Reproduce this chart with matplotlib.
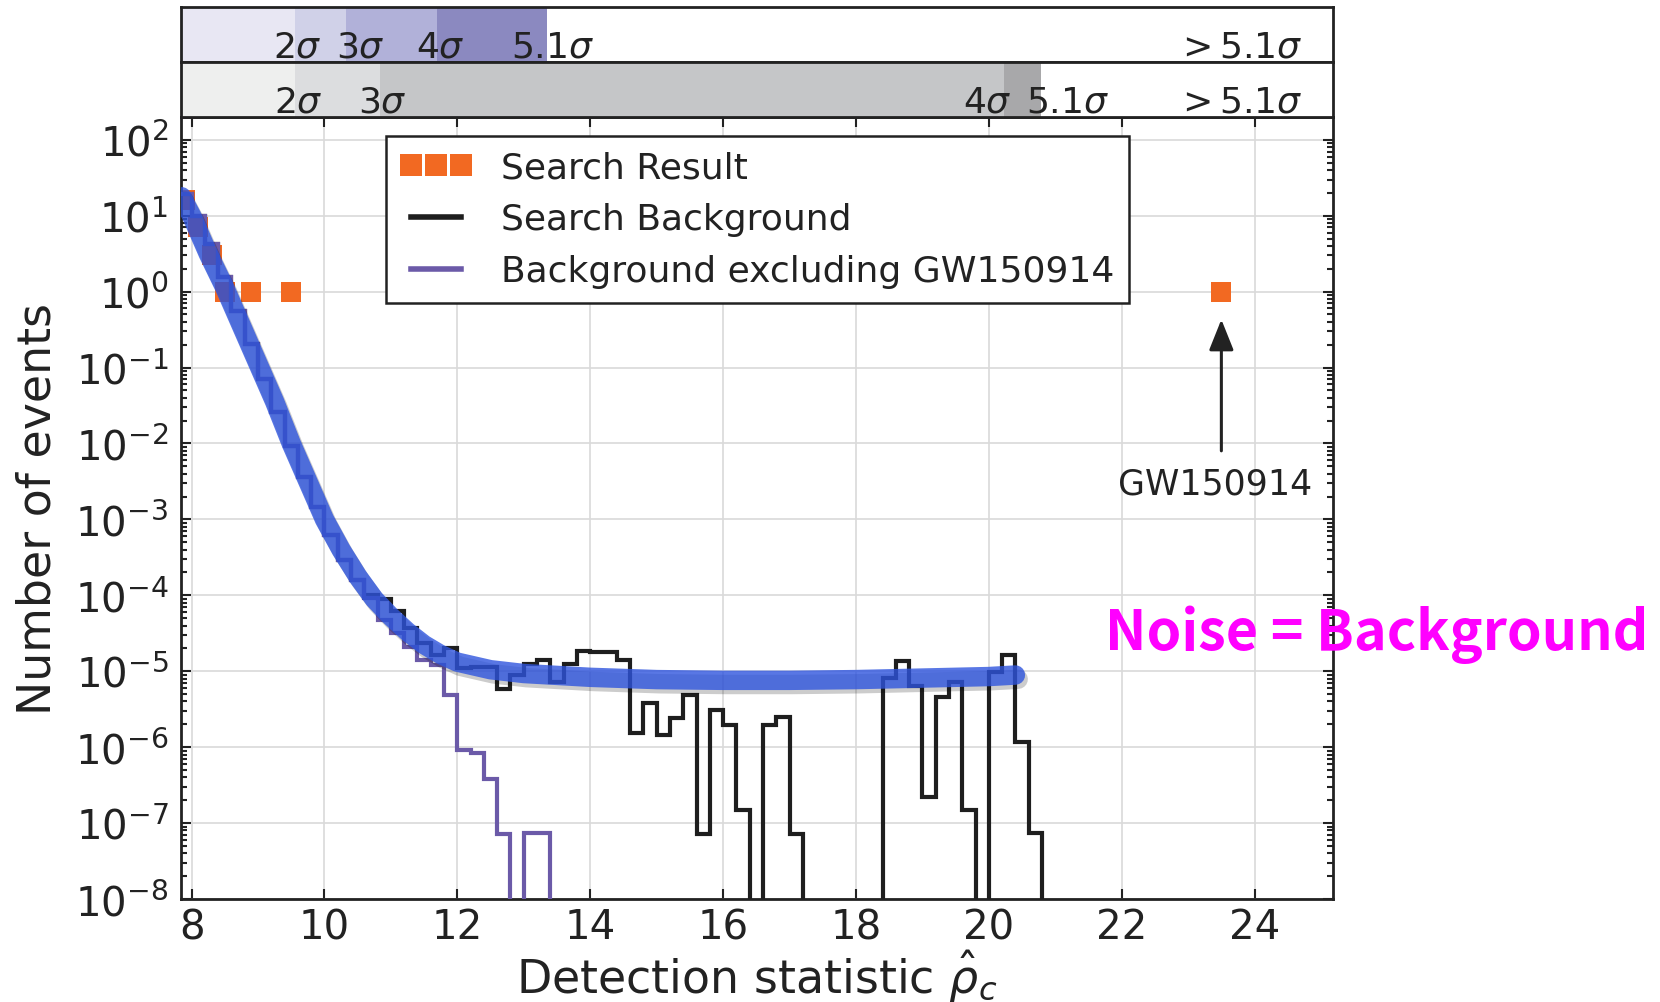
import numpy as np
import matplotlib
matplotlib.use('Agg')
import matplotlib.pyplot as plt
import matplotlib.patheffects as pe
from matplotlib.ticker import LogLocator, NullFormatter
from matplotlib.lines import Line2D

nan = np.nan

# histogram bins (detection statistic), 0.2 wide starting at 7.8
bin_start = 7.8
bin_width = 0.2

# log10(number of events) per bin, nan = empty bin
search_bg_log = [1.28, 1.00, 0.63, 0.19, -0.25, -0.69, -1.15, -1.59, -2.03, -2.44,
                 -2.84, -3.20, -3.53, -3.80, -4.00, -4.05, -4.20, -4.43, -4.63, -4.78,
                 -4.70, -4.96, -4.94, -4.94, -5.23, -5.05, -4.91, -4.85, -5.14, -4.91,
                 -4.74, -4.75, -4.75, -4.85, -5.82, -5.42, -5.84, -5.62, -5.31, -7.14,
                 -5.51, -5.71, -6.83, nan, -5.71, -5.60, -7.14, nan, nan, nan,
                 nan, nan, nan, -5.09, -4.87, -5.20, -6.66, -5.34, -5.14, -6.83,
                 nan, -5.01, -4.79, -5.93, -7.13]
excl_bg_log = [1.28, 1.00, 0.63, 0.19, -0.25, -0.69, -1.15, -1.59, -2.03, -2.44,
               -2.84, -3.20, -3.53, -3.80, -4.04, -4.32, -4.50, -4.68, -4.85, -4.92,
               -5.31, -6.04, -6.08, -6.42, -7.14, nan, -7.13, -7.13]

# search result (counts)
result_x = [7.9, 8.1, 8.3, 8.5, 8.9, 9.5, 23.5]
result_n = [16, 7, 3, 1, 1, 1, 1]

# smooth background fit (blue band)
fit_x = [7.85, 8.0, 8.25, 8.5, 8.75, 9.0, 9.25, 9.5, 9.75, 10.0, 10.25, 10.5, 10.75,
         11.0, 11.25, 11.5, 11.75, 12.0, 12.5, 13.0, 14.0, 15.0, 16.0, 17.0, 18.0,
         19.0, 20.0, 20.4]
fit_log = [1.25, 1.0, 0.5, 0.05, -0.45, -0.95, -1.45, -2.0, -2.5, -3.0, -3.4, -3.75,
           -4.05, -4.28, -4.48, -4.65, -4.78, -4.88, -4.98, -5.03, -5.08, -5.11, -5.12,
           -5.12, -5.11, -5.09, -5.07, -5.05]

# significance bars
sig1_edges = [7.84, 9.56, 10.33, 11.70, 13.35]
sig1_colors = ['#e8e7f3', '#d0d1e8', '#b1b1d9', '#8b89c0']
sig1_labels = [r'$2\sigma$', r'$3\sigma$', r'$4\sigma$', r'$5.1\sigma$', r'$>5.1\sigma$']
sig1_label_x = [9.59, 10.54, 11.74, 13.44, 23.77]
sig2_edges = [7.84, 9.56, 10.83, 20.23, 20.79]
sig2_colors = ['#eeefee', '#dcdddf', '#c5c6c8', '#a8a8aa']
sig2_labels = [r'$2\sigma$', r'$3\sigma$', r'$4\sigma$', r'$5.1\sigma$', r'$>5.1\sigma$']
sig2_label_x = [9.61, 10.87, 19.98, 21.19, 23.77]


def to_counts(logs):
    a = np.array(logs, dtype=float)
    return np.where(np.isnan(a), 0.0, 10.0 ** a)


xlim = (7.84, 25.18)
ylim = (1e-8, 2e2)

fig = plt.figure(figsize=(16.6, 10.03), dpi=100)
ax = fig.add_axes([0.109, 0.1027, 0.694, 0.7797])

orange = '#f26922'
purple = '#6b5aa8'

# search result squares
ax.plot(result_x, result_n, 's', color=orange, ms=15, mew=0, zorder=2)

# histograms (trailing empty bin closes the last step)
bg = np.append(to_counts(search_bg_log), 0.0)
edges = bin_start + bin_width * np.arange(len(bg) + 1)
ax.stairs(bg, edges, baseline=None, color='#1e1e1e', lw=3, zorder=3)
ex = np.append(to_counts(excl_bg_log), 0.0)
edges2 = bin_start + bin_width * np.arange(len(ex) + 1)
ax.stairs(ex, edges2, baseline=None, color=purple, lw=3, zorder=3)

# blue fit band
ax.plot(fit_x, 10.0 ** np.array(fit_log), color='#2f55de', alpha=0.8, lw=14,
        solid_capstyle='round', zorder=4,
        path_effects=[pe.SimpleLineShadow(offset=(2, -3), alpha=0.2), pe.Normal()])

ax.set_yscale('log')
ax.set_xlim(*xlim)
ax.set_ylim(*ylim)
ax.set_xticks([8, 10, 12, 14, 16, 18, 20, 22, 24])
ax.yaxis.set_major_locator(LogLocator(base=10, numticks=20))
ax.yaxis.set_minor_locator(LogLocator(base=10, subs=np.arange(2, 10), numticks=20))
ax.yaxis.set_minor_formatter(NullFormatter())
ax.tick_params(which='both', direction='in', top=True, right=True, width=1.5,
               color='#222222', labelsize=29, labelcolor='#222222')
ax.tick_params(which='major', length=7)
ax.tick_params(axis='x', which='major', pad=6)
ax.tick_params(axis='y', which='major', pad=9)
ax.tick_params(which='minor', length=4)
ax.grid(True, which='major', color='#d9d9d9', lw=1.2, zorder=0)
ax.set_axisbelow(True)
for s in ax.spines.values():
    s.set_linewidth(2.0)
    s.set_color('#222222')

ax.set_xlabel(r'Detection statistic $\hat{\rho}_c$', fontsize=33, color='#222222', labelpad=0)
ax.set_ylabel('Number of events', fontsize=33, color='#222222', labelpad=10)

# GW150914 arrow
ax.annotate('', xy=(23.5, 0.43), xytext=(23.5, 0.008),
            arrowprops=dict(arrowstyle='-|>,head_length=0.45,head_width=0.18',
                            mutation_scale=42, color='#222222', lw=2.2,
                            shrinkA=0, shrinkB=0), zorder=5)
ax.text(23.4, 10 ** -2.53, 'GW150914', fontsize=25, ha='center', va='center',
        color='#222222', zorder=5)

handles = [Line2D([], [], marker='s', ls='none', color=orange, ms=16, mew=0),
           Line2D([], [], color='#1e1e1e', lw=4),
           Line2D([], [], color=purple, lw=4)]
leg = ax.legend(handles, ['Search Result', 'Search Background', 'Background excluding GW150914'],
                loc='upper left', bbox_to_anchor=(0.162, 0.999), fontsize=26,
                numpoints=3, handlelength=2.0, handletextpad=0.8, labelspacing=0.5,
                borderpad=0.4, fancybox=False, framealpha=1, edgecolor='#222222')
leg.get_frame().set_linewidth(1.8)
leg.set_zorder(10)
for t in leg.get_texts():
    t.set_color('#222222')

# significance bars on top
for bottom, edges_s, cols, labs, lx in [(0.9372, sig1_edges, sig1_colors, sig1_labels, sig1_label_x),
                                         (0.8824, sig2_edges, sig2_colors, sig2_labels, sig2_label_x)]:
    b = fig.add_axes([0.109, bottom, 0.694, 0.0548])
    b.set_xlim(*xlim)
    b.set_ylim(0, 1)
    b.set_xticks([])
    b.set_yticks([])
    for i, c in enumerate(cols):
        b.axvspan(edges_s[i], edges_s[i + 1], color=c, lw=0)
    for t, x in zip(labs, lx):
        b.text(x, 0.1, t, ha='center', va='baseline', fontsize=26, color='#222222')
    for s in b.spines.values():
        s.set_linewidth(2.0)
        s.set_color('#222222')

fig.text(0.8295, 0.367, 'Noise = Background', color='#ff00ff', fontsize=40,
         fontweight='bold', family=['Noto Sans CJK SC', 'DejaVu Sans'],
         ha='center', va='center')

fig.savefig('out.png', dpi=100)
